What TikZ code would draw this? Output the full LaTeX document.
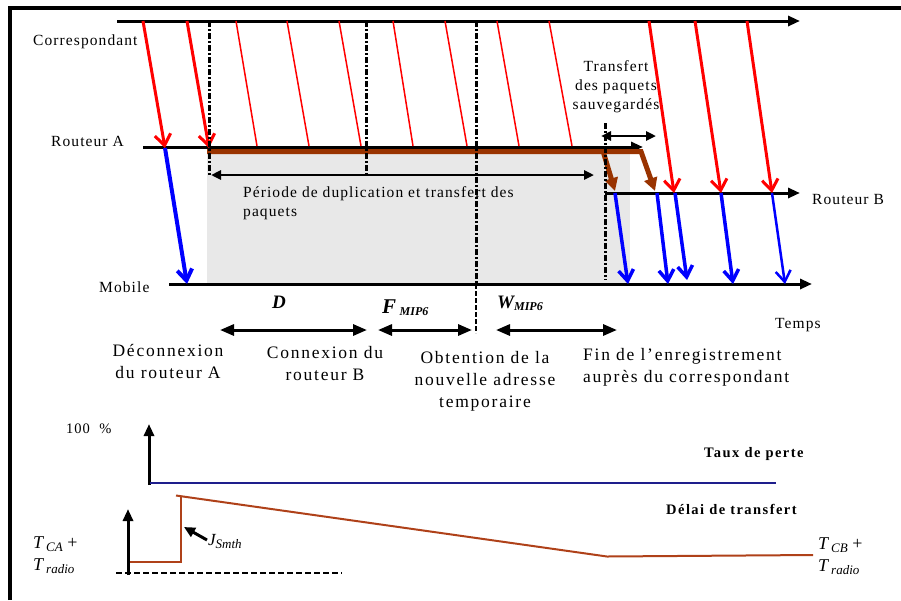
\documentclass[tikz,border=0pt]{standalone}
\usepackage{fontspec}
\setmainfont{Liberation Serif}
\newfontfamily\labelfont[LetterSpace=7]{Liberation Serif}
\newfontfamily\phasefont[LetterSpace=10]{Liberation Serif}
\usetikzlibrary{arrows.meta}

\definecolor{pktred}{RGB}{255,0,0}
\definecolor{pktblue}{RGB}{0,0,255}
\definecolor{dupbrown}{RGB}{153,51,0}
\definecolor{delaybrown}{RGB}{175,65,25}
\definecolor{lossblue}{RGB}{30,30,140}
\definecolor{dupgrey}{RGB}{232,232,232}

\tikzstyle{axis}=[line width=3pt, -{Triangle[length=12pt,width=10pt]}]
\tikzstyle{pkt}=[pktred, line width=3pt, -{Straight Barb[length=11pt,width=16pt]}]
\tikzstyle{dup}=[pktred, line width=1.5pt]
\tikzstyle{fwd}=[pktblue, line width=3.5pt, -{Straight Barb[length=11pt,width=15pt]}]
\tikzstyle{buf}=[dupbrown, line width=5pt, -{Triangle[length=13pt,width=13pt]}]
\tikzstyle{event}=[line width=3pt, dash pattern=on 6pt off 2pt on 2pt off 2pt]
\tikzstyle{span}=[line width=3pt, {Triangle[length=14pt,width=11pt]}-{Triangle[length=14pt,width=11pt]}]
\tikzstyle{smallspan}=[line width=2.5pt, {Triangle[length=10pt,width=9pt]}-{Triangle[length=10pt,width=9pt]}]
\tikzstyle{lbl}=[inner sep=0pt, font=\labelfont\fontsize{15.5}{19}\selectfont]
\tikzstyle{phase}=[inner sep=0pt, align=center, font=\phasefont\fontsize{17.5}{22}\selectfont]
\tikzstyle{curve}=[inner sep=0pt, font=\bfseries\phasefont\fontsize{14.5}{16}\selectfont]
\tikzstyle{sym}=[inner sep=0pt, font=\fontsize{17}{21}\selectfont]

\begin{document}
\begin{tikzpicture}[x=1pt,y=-1pt]
      \useasboundingbox (0,0) rectangle (901,600);
      \draw[line width=3.5pt] (10,600) -- (10,8) -- (901,8);
      \fill[dupgrey] (207,154) rectangle (630,283);

      \coordinate (corrL) at (117,21);  \coordinate (corrR) at (800,21);
      \coordinate (raL) at (143,147);   \coordinate (raR) at (643,147);
      \coordinate (rbL) at (605,193);   \coordinate (rbR) at (800,193);
      \coordinate (mobL) at (169,284);  \coordinate (mobR) at (812,284);
      \draw[axis] (corrL) -- (corrR);
      \draw[axis] (raL) -- (raR);
      \draw[axis] (rbL) -- (rbR);
      \draw[axis] (mobL) -- (mobR);

      \draw[buf] (207,151.5) -- (641,151.5) -- (655,191);
      \draw[buf] (603,151) -- (615,191);

      \foreach \a/\b in {143/165, 187/209} {%
        \draw[pkt] (\a,21) -- (\b,148);
      }
      \foreach \a/\b in {236/257, 287/309, 339/361, 393/413, 445/467, 497/519, 549/572} {%
        \draw[dup] (\a,21) -- (\b,146);
      }
      \foreach \a/\b in {649/674, 695/721, 747/772} {%
        \draw[pkt] (\a,21) -- (\b,193);
      }

      \draw[fwd, line width=4pt] (165,148) -- (187,284);
      \foreach \a/\b/\y in {615/628/284, 657/668/284, 675/687/280, 721/733/284} {%
        \draw[fwd] (\a,193) -- (\b,\y);
      }
      \draw[fwd, line width=2.5pt] (772,193) -- (785,284);

      \draw[event] (209,21) -- (209,175);
      \draw[event] (366,21) -- (366,175);
      \draw[event] (476,21) -- (476,284);
      \draw[line width=1.5pt, dash pattern=on 5pt off 2pt] (476,284) -- (476,333);
      \draw[event] (605,123) -- (605,280);

      \draw[smallspan] (211,175) -- (594,175);
      \draw[smallspan] (601,136) -- (656,136);

      \node[lbl, anchor=base west] (corr) at (33,45) {Correspondant};
      \node[lbl, anchor=base west] (ra) at (51,146) {Routeur A};
      \node[lbl, anchor=base west] (rb) at (812,204) {Routeur B};
      \node[lbl, anchor=base west] (mob) at (99,292) {Mobile};
      \node[lbl, anchor=base west] (temps) at (775,328) {Temps};
      \node[lbl, anchor=base, align=center] (saved) at (616,109) {Transfert\\des paquets\\sauvegardés};
      \node[lbl, anchor=base west, align=left] (period) at (243,216) {Période de duplication et transfert des\\paquets};

      \draw[span] (220,330) -- (367,330);
      \draw[span] (378,330) -- (472,330);
      \draw[span] (496,330) -- (617,330);
      \node[sym, anchor=base west, font=\fontsize{19}{21}\selectfont] (d) at (272,308) {\bfseries\itshape D};
      \node[sym, anchor=base west, font=\fontsize{21}{23}\selectfont] (f) at (382,313) {\bfseries\itshape F\,\raisebox{-2pt}{\fontsize{12}{12}\selectfont MIP6}};
      \node[sym, anchor=base west, font=\fontsize{19}{21}\selectfont] (w) at (497,308) {\bfseries\itshape W\raisebox{-2pt}{\fontsize{12}{12}\selectfont MIP6}};

      \node[phase, anchor=base] (disc) at (168,378) {Déconnexion\\du routeur A};
      \node[phase, anchor=base] (conn) at (325,380) {Connexion du\\routeur B};
      \node[phase, anchor=base] (addr) at (485,407) {Obtention de la\\nouvelle adresse\\temporaire};
      \node[phase, anchor=base west, align=left] (reg) at (583,382) {Fin de l’enregistrement\\auprès du correspondant};

      \draw[line width=3pt, -{Triangle[length=12pt,width=10pt]}] (149,485) -- (149,424);
      \draw[lossblue, line width=2pt] (150,483) -- (776,483);
      \node[lbl, anchor=base west, font=\labelfont\fontsize{14.5}{16}\selectfont] (full) at (66,433) {100 ~\%};
      \node[curve, anchor=base west] (loss) at (704,457) {Taux de perte};
      \node[curve, anchor=base west] (delay) at (666,514) {Délai de transfert};

      \draw[line width=3pt, -{Triangle[length=12pt,width=10pt]}] (128,575) -- (128,509);
      \draw[line width=2.5pt, dash pattern=on 6pt off 3pt] (116,573) -- (342,573);
      \draw[delaybrown, line width=2pt] (130,562) -- (181,562) -- (181,496);
      \draw[delaybrown, line width=2pt] (176,495.5) -- (607,556.5) -- (813,555);
      \draw[line width=3pt, -{Triangle[length=11pt,width=10pt]}] (207,540) -- (184,527);
      \node[sym, anchor=base west, font=\fontsize{17}{19}\selectfont] (jit) at (208,545) {\itshape J\raisebox{-3pt}{\fontsize{13}{13}\selectfont Smth}};
      \node[sym, anchor=base west, align=left, font=\fontsize{18}{22}\selectfont] (tca) at (33,570) {\itshape T\,\raisebox{-3pt}{\fontsize{13}{13}\selectfont CA}\upshape\ +\\\itshape T\,\raisebox{-3pt}{\fontsize{13}{13}\selectfont radio}};
      \node[sym, anchor=base west, align=left, font=\fontsize{18}{22}\selectfont] (tcb) at (818,571) {\itshape T\,\raisebox{-3pt}{\fontsize{13}{13}\selectfont CB}\upshape\ +\\\itshape T\,\raisebox{-3pt}{\fontsize{13}{13}\selectfont radio}};
    \end{tikzpicture}
\end{document}
